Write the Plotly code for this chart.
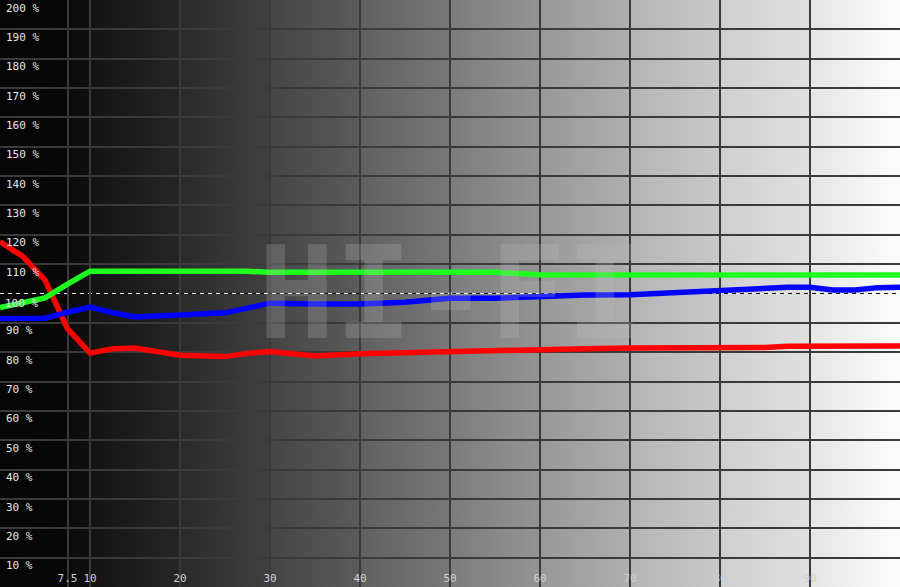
import base64
import plotly.graph_objects as go

# 측정 지점 (밝기 %)
x_levels = [0, 2.5, 5, 7.5, 10, 12.5, 15, 20, 25, 27.5, 30, 35, 40, 45, 50, 55,
            60, 65, 70, 75, 80, 85, 87.5, 90, 92.5, 95, 97.5, 100]

red = [117.6, 112.7, 104.6, 88.0, 79.7, 81.2, 81.4, 79.0, 78.5, 79.6, 80.2, 78.7,
       79.5, 79.9, 80.3, 80.4, 80.7, 81.2, 81.4, 81.4, 81.4, 81.6, 82.0, 82.1,
       82.1, 82.1, 82.1, 82.1]
green = [95.2, 96.7, 98.5, 103.2, 107.6, 107.6, 107.6, 107.7, 107.8, 107.6, 107.2,
         107.2, 107.2, 107.2, 107.2, 107.2, 106.4, 106.3, 106.3, 106.3, 106.3,
         106.3, 106.3, 106.3, 106.3, 106.3, 106.3, 106.3]
blue = [91.5, 91.5, 91.6, 93.6, 95.4, 93.5, 92.0, 92.7, 93.4, 95.0, 96.7, 96.4,
        96.4, 97.0, 98.4, 98.4, 99.0, 99.5, 99.6, 100.3, 101.2, 101.6, 102.1,
        102.1, 101.2, 101.2, 102.0, 102.1]

x_ticks = [7.5, 10, 20, 30, 40, 50, 60, 70, 80, 90]
x_tick_text = ["7.5", "10", "20", "30", "40", "50", "60", "70", "80", "90"]
y_ticks = [v for v in range(10, 201, 10) if v != 100]
y_tick_text = [f"{v} %" for v in y_ticks]

# 배경 그라데이션 (칸마다 살짝 끊기는 회색 계단)
bg_stops = [
    (0.0, "#050505"), (0.075, "#080808"), (0.075, "#0b0b0b"), (0.10, "#101010"),
    (0.10, "#131313"), (0.20, "#262626"), (0.20, "#2a2a2a"), (0.30, "#404040"),
    (0.30, "#444444"), (0.40, "#5c5c5c"), (0.40, "#606060"), (0.50, "#787878"),
    (0.50, "#7c7c7c"), (0.60, "#949494"), (0.60, "#989898"), (0.70, "#afafaf"),
    (0.70, "#b4b4b4"), (0.80, "#c9c9c9"), (0.80, "#cfcfcf"), (0.90, "#e0e0e0"),
    (0.90, "#e5e5e5"), (1.0, "#fcfcfc"),
]
svg = (
    '<svg xmlns="http://www.w3.org/2000/svg" width="100" height="10" preserveAspectRatio="none">'
    '<defs><linearGradient id="g" x1="0" y1="0" x2="1" y2="0">'
    + "".join(f'<stop offset="{o}" stop-color="{c}"/>' for o, c in bg_stops)
    + '</linearGradient></defs>'
    '<rect width="100" height="10" fill="url(#g)"/></svg>'
)
bg_src = "data:image/svg+xml;base64," + base64.b64encode(svg.encode()).decode()

fig = go.Figure()

fig.add_layout_image(
    source=bg_src,
    xref="paper", yref="paper",
    x=0, y=1, sizex=1, sizey=1,
    xanchor="left", yanchor="top",
    sizing="stretch",
    layer="below"
)

# 100% 기준선 (흑/백 점선)
fig.add_hline(y=100, line=dict(color="#000000", width=1), layer="below")
fig.add_hline(y=100, line=dict(color="#ffffff", width=1, dash="4px,4px"), layer="below")

# 워터마크
fig.add_annotation(
    x=50, y=100,
    xref="x", yref="y",
    text="<b>HI-FI</b>",
    showarrow=False,
    font=dict(family="DejaVu Sans Mono", size=128, color="rgba(190,190,190,0.24)")
)

for vals, color in [(red, "#ff0000"), (green, "#1eff1e"), (blue, "#0000ff")]:
    fig.add_trace(
        go.Scatter(
            x=x_levels,
            y=vals,
            mode="lines",
            line=dict(color=color, width=5.5),
            hoverinfo="skip"
        )
    )

label_font = dict(family="DejaVu Sans Mono", size=11, color="#e6e6e6")

fig.add_annotation(
    x=0, y=100, xref="paper", yref="y",
    text="100 %", showarrow=False,
    xanchor="left", yanchor="top", xshift=3, yshift=-1,
    font=label_font
)

fig.update_layout(
    width=900,
    height=587,
    margin=dict(l=0, r=0, t=0, b=0, autoexpand=False),
    paper_bgcolor="#000000",
    plot_bgcolor="#000000",
    showlegend=False,
    xaxis=dict(
        range=[0, 100],
        tickvals=x_ticks,
        ticktext=x_tick_text,
        ticklabelposition="inside",
        tickfont=dict(family="DejaVu Sans Mono", size=11, color="#d0d0d0"),
        showgrid=True,
        gridcolor="#3a3a3a",
        gridwidth=2,
        zeroline=False,
        showline=False,
        automargin=False,
        fixedrange=True
    ),
    yaxis=dict(
        range=[0, 200],
        tickvals=y_ticks,
        ticktext=y_tick_text,
        ticklabelposition="inside bottom",
        tickfont=label_font,
        ticklabelstandoff=3,
        showgrid=True,
        gridcolor="#3a3a3a",
        gridwidth=2,
        zeroline=False,
        showline=False,
        automargin=False,
        fixedrange=True
    )
)

fig.write_html(
    "out.html",
    config={"displayModeBar": False},
    post_script="document.body.style.margin='0';"
)
